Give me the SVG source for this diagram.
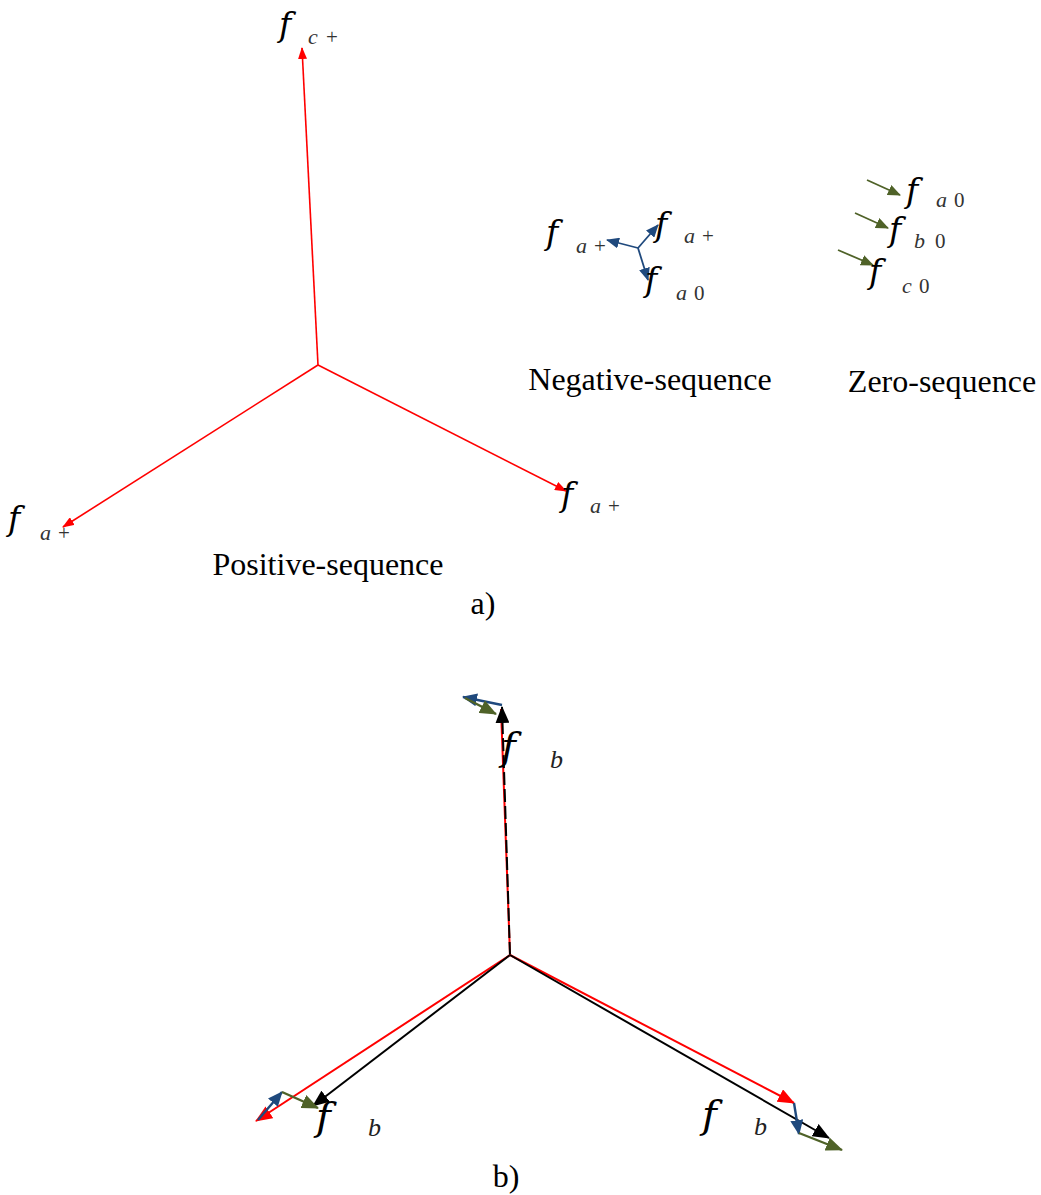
<svg xmlns="http://www.w3.org/2000/svg" width="1041" height="1195" viewBox="0 0 1041 1195">
<style>
.f{font-family:"DejaVu Serif","Liberation Serif",serif;font-style:italic;font-size:33px;fill:#000}
.fb{font-family:"DejaVu Serif","Liberation Serif",serif;font-style:italic;font-size:40px;fill:#000}
.s{font-family:"Liberation Serif",serif;font-style:italic;font-size:22px;fill:#333}
.sb{font-family:"Liberation Serif",serif;font-style:italic;font-size:26px;fill:#222}
.sn{font-family:"Liberation Serif",serif;font-size:21px;fill:#333}
.t{font-family:"Liberation Serif",serif;font-size:32px;fill:#000;text-anchor:middle}
.r{stroke:#ff0000;stroke-width:1.6;fill:none}
.bl{stroke:#1f497d;stroke-width:1.8;fill:none}
.g{stroke:#4f6228;stroke-width:1.8;fill:none}
.rb{stroke:#ff0000;stroke-width:2;fill:none}
.kb{stroke:#000;stroke-width:2;fill:none}
.blb{stroke:#1f497d;stroke-width:2.4;fill:none}
.gb{stroke:#4f6228;stroke-width:2.4;fill:none}
</style>
<defs>
<marker id="ra" viewBox="0 0 12 9" refX="11" refY="4.5" markerWidth="12" markerHeight="9" markerUnits="userSpaceOnUse" orient="auto"><path d="M0,0 L12,4.5 L0,9 z" fill="#ff0000"/></marker>
<marker id="ba" viewBox="0 0 13 11" refX="12" refY="5.5" markerWidth="13" markerHeight="11" markerUnits="userSpaceOnUse" orient="auto"><path d="M0,0 L13,5.5 L0,11 z" fill="#1f497d"/></marker>
<marker id="ga" viewBox="0 0 13 11" refX="12" refY="5.5" markerWidth="13" markerHeight="11" markerUnits="userSpaceOnUse" orient="auto"><path d="M0,0 L13,5.5 L0,11 z" fill="#4f6228"/></marker>
<marker id="rB" viewBox="0 0 17 14" refX="16" refY="7" markerWidth="17" markerHeight="14" markerUnits="userSpaceOnUse" orient="auto"><path d="M0,0 L17,7 L0,14 z" fill="#ff0000"/></marker>
<marker id="kB" viewBox="0 0 17 14" refX="16" refY="7" markerWidth="17" markerHeight="14" markerUnits="userSpaceOnUse" orient="auto"><path d="M0,0 L17,7 L0,14 z" fill="#000"/></marker>
<marker id="bB" viewBox="0 0 15 13" refX="14" refY="6.5" markerWidth="15" markerHeight="13" markerUnits="userSpaceOnUse" orient="auto"><path d="M0,0 L15,6.5 L0,13 z" fill="#1f497d"/></marker>
<marker id="gB" viewBox="0 0 17 14" refX="16" refY="7" markerWidth="17" markerHeight="14" markerUnits="userSpaceOnUse" orient="auto"><path d="M0,0 L17,7 L0,14 z" fill="#4f6228"/></marker>
</defs>

<g id="connectors">
<!-- a) positive -->
<line class="r" x1="318" y1="365" x2="302" y2="48" marker-end="url(#ra)"/>
<line class="r" x1="318" y1="365" x2="63" y2="527" marker-end="url(#ra)"/>
<line class="r" x1="318" y1="365" x2="566" y2="491" marker-end="url(#ra)"/>
<!-- a) negative -->
<line class="bl" x1="638" y1="248" x2="607" y2="240" marker-end="url(#ba)"/>
<line class="bl" x1="638" y1="248" x2="658" y2="225" marker-end="url(#ba)"/>
<line class="bl" x1="638" y1="248" x2="648" y2="280" marker-end="url(#ba)"/>
<!-- a) zero -->
<line class="g" x1="867" y1="180" x2="900" y2="195" marker-end="url(#ga)"/>
<line class="g" x1="855" y1="213" x2="888" y2="228" marker-end="url(#ga)"/>
<line class="g" x1="838" y1="250" x2="873" y2="265" marker-end="url(#ga)"/>
<!-- b) up -->
<line class="rb" x1="510" y1="955" x2="501" y2="709"/>
<line class="kb" x1="510" y1="955" x2="502" y2="707" stroke-dasharray="13 4" marker-end="url(#kB)"/>
<line class="blb" x1="502" y1="705" x2="463" y2="697" marker-end="url(#bB)"/>
<line class="gb" x1="465" y1="698" x2="496" y2="714" marker-end="url(#gB)"/>
<!-- b) lower left -->
<line class="rb" x1="510" y1="955" x2="256" y2="1121" marker-end="url(#rB)"/>
<line class="kb" x1="510" y1="955" x2="313" y2="1106" marker-end="url(#kB)"/>
<line class="blb" x1="258" y1="1120" x2="282" y2="1092" marker-end="url(#bB)"/>
<line class="gb" x1="282" y1="1092" x2="318" y2="1108" marker-end="url(#gB)"/>
<!-- b) lower right -->
<line class="rb" x1="510" y1="955" x2="794" y2="1103" marker-end="url(#rB)"/>
<line class="kb" x1="510" y1="955" x2="829" y2="1138" marker-end="url(#kB)"/>
<line class="blb" x1="794" y1="1103" x2="799" y2="1134" marker-end="url(#bB)"/>
<line class="gb" x1="799" y1="1133" x2="842" y2="1150" marker-end="url(#gB)"/>
</g>

<g id="labels-a">
<g id="fc-pos"><text class="f" x="279" y="36">f</text><text class="s" x="308" y="44">c</text><text class="sn" x="326" y="44">+</text></g>
<g id="fa-pos-left"><text class="f" x="8" y="530">f</text><text class="s" x="40" y="540">a</text><text class="sn" x="58" y="540">+</text></g>
<g id="fa-pos-right"><text class="f" x="561" y="506">f</text><text class="s" x="590" y="513">a</text><text class="sn" x="608" y="513">+</text></g>
<g id="neg-left"><text class="f" x="546" y="244">f</text><text class="s" x="576" y="253">a</text><text class="sn" x="594" y="253">+</text></g>
<g id="neg-right"><text class="f" x="655" y="236">f</text><text class="s" x="684" y="243">a</text><text class="sn" x="702" y="243">+</text></g>
<g id="neg-down"><text class="f" x="645" y="291">f</text><text class="s" x="676" y="300">a</text><text class="sn" x="694" y="300">0</text></g>
<g id="zero-a"><text class="f" x="906" y="202">f</text><text class="s" x="936" y="207">a</text><text class="sn" x="954" y="207">0</text></g>
<g id="zero-b"><text class="f" x="889" y="241">f</text><text class="s" x="914" y="248">b</text><text class="sn" x="935" y="248">0</text></g>
<g id="zero-c"><text class="f" x="869" y="283">f</text><text class="s" x="902" y="293">c</text><text class="sn" x="919" y="293">0</text></g>
<text class="t" x="328" y="575">Positive-sequence</text>
<text class="t" x="650" y="390">Negative-sequence</text>
<text class="t" x="942" y="392">Zero-sequence</text>
<text class="t" x="483" y="614">a)</text>
</g>

<g id="labels-b">
<g id="fb-top"><text class="fb" x="501" y="760">f</text><text class="sb" x="550" y="768">b</text></g>
<g id="fb-left"><text class="fb" x="316" y="1130">f</text><text class="sb" x="368" y="1136">b</text></g>
<g id="fb-right"><text class="fb" x="702" y="1128">f</text><text class="sb" x="754" y="1135">b</text></g>
<text class="t" x="506" y="1187">b)</text>
</g>
</svg>
